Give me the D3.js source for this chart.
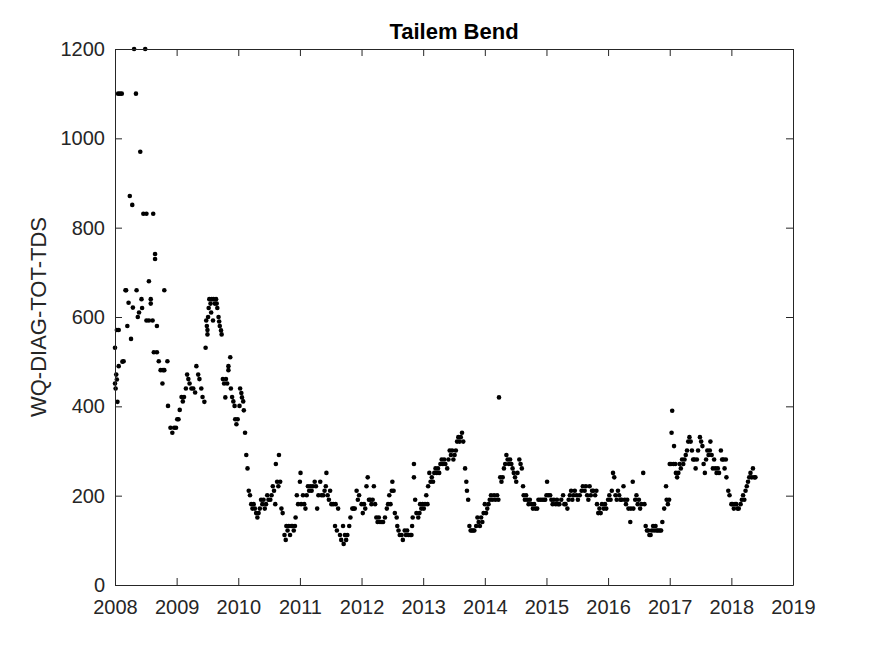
<!DOCTYPE html>
<html>
<head>
<meta charset="utf-8">
<script src="https://cdn.jsdelivr.net/npm/d3@7"></script>
<style>
  html, body { margin: 0; padding: 0; background: #fff; }
  svg { display: block; }
  text { font-family: "Liberation Sans", Arial, Helvetica, sans-serif; fill: #262626; }
</style>
</head>
<body>
<svg id="chart" width="875" height="656"></svg>
<script>
// ---- Data ----
const chartTitle = "Tailem Bend";
const yAxisLabel = "WQ-DIAG-TOT-TDS";
const xTickValues = [2008, 2009, 2010, 2011, 2012, 2013, 2014, 2015, 2016, 2017, 2018, 2019];
const xTickLabels = ["2008","2009","2010","2011","2012","2013","2014","2015","2016","2017","2018","2019"];
const yTickValues = [0, 200, 400, 600, 800, 1000, 1200];
const yTickLabels = ["0","200","400","600","800","1000","1200"];

// [decimal year, TDS]
const obs2008 = [[2008.00,531],[2008.00,451],[2008.01,440],[2008.02,471],[2008.03,460],[2008.04,410],[2008.03,571],[2008.05,1100],[2008.06,571],[2008.06,490],[2008.08,1100],[2008.11,1100],[2008.12,500],[2008.14,501],[2008.17,660],[2008.18,660],[2008.20,580],[2008.22,632],[2008.24,871],[2008.26,551],[2008.28,851],[2008.29,621],[2008.31,1200],[2008.34,1100],[2008.35,660],[2008.37,600],[2008.39,610],[2008.41,970],[2008.43,640],[2008.44,620],[2008.46,831],[2008.49,1200],[2008.51,831],[2008.51,592],[2008.55,680],[2008.55,592],[2008.58,640],[2008.58,630],[2008.61,592],[2008.62,831],[2008.63,521],[2008.65,741],[2008.65,730],[2008.68,580],[2008.68,521],[2008.71,501],[2008.74,481],[2008.77,451],[2008.78,481],[2008.80,660],[2008.80,481],[2008.85,501],[2008.86,401],[2008.90,352],[2008.93,341],[2008.96,352],[2008.99,352]];
const obs2009 = [[2009.01,371],[2009.03,371],[2009.05,392],[2009.08,421],[2009.10,411],[2009.12,421],[2009.15,440],[2009.17,471],[2009.19,461],[2009.21,451],[2009.24,440],[2009.27,440],[2009.30,431],[2009.32,490],[2009.35,471],[2009.37,461],[2009.40,440],[2009.42,421],[2009.45,410],[2009.47,531],[2009.48,592],[2009.49,580],[2009.50,571],[2009.50,561],[2009.51,600],[2009.52,620],[2009.53,640],[2009.55,630],[2009.56,610],[2009.57,640],[2009.59,592],[2009.60,640],[2009.62,630],[2009.64,640],[2009.65,630],[2009.66,620],[2009.68,600],[2009.69,590],[2009.70,580],[2009.72,570],[2009.73,561],[2009.75,461],[2009.77,451],[2009.79,420],[2009.80,461],[2009.82,451],[2009.84,490],[2009.84,481],[2009.87,510],[2009.88,440],[2009.90,421],[2009.92,411],[2009.94,401],[2009.95,371],[2009.97,360],[2009.99,371]];
const obs2010 = [[2010.02,401],[2010.03,440],[2010.05,430],[2010.06,420],[2010.08,411],[2010.09,391],[2010.11,341],[2010.13,291],[2010.15,261],[2010.17,211],[2010.19,201],[2010.21,181],[2010.23,171],[2010.25,181],[2010.27,171],[2010.29,161],[2010.31,151],[2010.33,161],[2010.35,171],[2010.37,191],[2010.39,181],[2010.41,191],[2010.43,171],[2010.45,181],[2010.47,201],[2010.49,191],[2010.52,191],[2010.54,201],[2010.56,221],[2010.58,211],[2010.60,181],[2010.61,271],[2010.63,231],[2010.65,221],[2010.66,291],[2010.68,231],[2010.70,171],[2010.72,161],[2010.75,112],[2010.77,101],[2010.78,132],[2010.80,122],[2010.82,132],[2010.84,112],[2010.86,132],[2010.88,132],[2010.90,122],[2010.92,132],[2010.93,151],[2010.95,201],[2010.97,181]];
const obs2011 = [[2011.00,231],[2011.01,251],[2011.02,181],[2011.05,201],[2011.07,181],[2011.09,171],[2011.11,201],[2011.13,221],[2011.15,211],[2011.17,221],[2011.19,211],[2011.21,221],[2011.24,231],[2011.26,221],[2011.28,171],[2011.30,201],[2011.33,231],[2011.35,201],[2011.38,201],[2011.40,211],[2011.42,221],[2011.43,251],[2011.45,201],[2011.47,191],[2011.49,211],[2011.51,181],[2011.54,181],[2011.57,132],[2011.58,181],[2011.60,122],[2011.62,171],[2011.65,112],[2011.67,101],[2011.70,132],[2011.71,92],[2011.73,112],[2011.75,101],[2011.77,112],[2011.80,132],[2011.82,151],[2011.85,171],[2011.87,171],[2011.89,171],[2011.92,211],[2011.94,191],[2011.96,201]];
const obs2012 = [[2012.00,181],[2012.02,161],[2012.04,181],[2012.06,171],[2012.08,221],[2012.10,241],[2012.12,191],[2012.14,191],[2012.16,181],[2012.18,191],[2012.20,221],[2012.22,181],[2012.24,151],[2012.26,141],[2012.28,151],[2012.30,141],[2012.33,141],[2012.35,141],[2012.38,151],[2012.41,171],[2012.43,181],[2012.45,201],[2012.47,181],[2012.49,211],[2012.50,231],[2012.52,211],[2012.54,161],[2012.57,151],[2012.58,132],[2012.60,122],[2012.62,112],[2012.65,112],[2012.67,101],[2012.70,122],[2012.72,112],[2012.74,122],[2012.76,112],[2012.79,112],[2012.81,112],[2012.82,132],[2012.83,151],[2012.85,271],[2012.85,241],[2012.87,191],[2012.89,161],[2012.92,151],[2012.94,161],[2012.95,181],[2012.97,171],[2012.99,181]];
const obs2013 = [[2013.01,171],[2013.03,181],[2013.05,201],[2013.07,181],[2013.08,221],[2013.10,251],[2013.12,231],[2013.14,241],[2013.16,231],[2013.18,251],[2013.20,261],[2013.22,251],[2013.24,261],[2013.26,251],[2013.28,271],[2013.30,281],[2013.32,271],[2013.34,281],[2013.36,271],[2013.39,261],[2013.41,281],[2013.43,301],[2013.45,291],[2013.47,301],[2013.49,281],[2013.51,291],[2013.53,301],[2013.55,321],[2013.57,331],[2013.59,321],[2013.61,331],[2013.63,341],[2013.65,321],[2013.68,261],[2013.70,231],[2013.71,211],[2013.73,191],[2013.75,132],[2013.77,122],[2013.79,122],[2013.81,122],[2013.83,122],[2013.86,132],[2013.88,151],[2013.90,141],[2013.92,132],[2013.94,151],[2013.96,141],[2013.98,161]];
const obs2014 = [[2014.00,181],[2014.02,161],[2014.04,171],[2014.06,181],[2014.08,191],[2014.10,201],[2014.12,191],[2014.15,201],[2014.17,191],[2014.20,201],[2014.22,191],[2014.23,420],[2014.25,241],[2014.27,231],[2014.29,241],[2014.31,261],[2014.33,271],[2014.35,291],[2014.37,281],[2014.39,271],[2014.41,281],[2014.43,271],[2014.45,261],[2014.47,251],[2014.49,241],[2014.51,231],[2014.53,251],[2014.56,281],[2014.58,271],[2014.60,261],[2014.62,221],[2014.63,201],[2014.65,191],[2014.67,201],[2014.69,191],[2014.71,181],[2014.73,191],[2014.76,181],[2014.78,171],[2014.80,181],[2014.82,171],[2014.85,171],[2014.87,191],[2014.90,191],[2014.93,191],[2014.96,191],[2014.98,191]];
const obs2015 = [[2015.00,201],[2015.01,231],[2015.03,201],[2015.06,201],[2015.08,191],[2015.10,181],[2015.12,191],[2015.15,181],[2015.17,191],[2015.19,181],[2015.21,181],[2015.24,191],[2015.27,201],[2015.29,181],[2015.31,181],[2015.34,171],[2015.36,191],[2015.38,201],[2015.40,211],[2015.42,191],[2015.44,201],[2015.46,211],[2015.49,201],[2015.51,191],[2015.54,201],[2015.57,211],[2015.59,221],[2015.62,211],[2015.64,221],[2015.66,201],[2015.68,191],[2015.70,221],[2015.72,201],[2015.74,211],[2015.76,211],[2015.79,201],[2015.81,211],[2015.82,181],[2015.84,161],[2015.86,171],[2015.88,161],[2015.90,181],[2015.93,171],[2015.95,181],[2015.97,171]];
const obs2016 = [[2016.00,191],[2016.02,201],[2016.04,191],[2016.06,211],[2016.08,251],[2016.10,241],[2016.12,201],[2016.14,191],[2016.16,211],[2016.18,201],[2016.20,191],[2016.22,191],[2016.25,221],[2016.27,191],[2016.29,181],[2016.31,191],[2016.33,171],[2016.36,141],[2016.37,171],[2016.40,231],[2016.41,171],[2016.44,191],[2016.46,201],[2016.48,181],[2016.50,191],[2016.52,171],[2016.54,181],[2016.57,251],[2016.59,181],[2016.61,132],[2016.63,122],[2016.65,122],[2016.67,112],[2016.69,112],[2016.71,122],[2016.73,132],[2016.75,122],[2016.77,132],[2016.79,122],[2016.81,122],[2016.84,122],[2016.86,122],[2016.88,141],[2016.91,171],[2016.94,221],[2016.95,191],[2016.97,181],[2016.99,191]];
const obs2017 = [[2017.00,271],[2017.02,271],[2017.03,341],[2017.04,390],[2017.06,271],[2017.07,311],[2017.09,271],[2017.10,251],[2017.12,241],[2017.14,251],[2017.16,271],[2017.18,261],[2017.20,281],[2017.22,271],[2017.24,281],[2017.26,291],[2017.28,301],[2017.30,321],[2017.32,331],[2017.34,321],[2017.36,301],[2017.38,281],[2017.40,281],[2017.42,261],[2017.44,281],[2017.46,301],[2017.49,331],[2017.51,321],[2017.53,311],[2017.55,271],[2017.57,251],[2017.59,281],[2017.61,301],[2017.63,291],[2017.65,301],[2017.66,321],[2017.68,291],[2017.70,261],[2017.72,281],[2017.74,261],[2017.76,251],[2017.78,261],[2017.80,251],[2017.83,301],[2017.85,281],[2017.87,281],[2017.89,261],[2017.91,281],[2017.92,241],[2017.95,211],[2017.97,201]];
const obs2018 = [[2018.00,181],[2018.02,181],[2018.04,171],[2018.06,181],[2018.08,181],[2018.10,171],[2018.12,171],[2018.15,181],[2018.17,191],[2018.19,201],[2018.21,191],[2018.23,211],[2018.25,221],[2018.27,231],[2018.29,241],[2018.31,251],[2018.33,241],[2018.35,261],[2018.37,241],[2018.39,241]];

const observations = [].concat(obs2008, obs2009, obs2010, obs2011, obs2012, obs2013,
  obs2014, obs2015, obs2016, obs2017, obs2018);

(function () {
  // ---- Layout ----
  const svg = d3.select("#chart");
  const mLeft = 115, mRight = 793, mTop = 49, mBottom = 585;
  const axisColor = "#262626";
  const tickLen = 7;

  const x = d3.scaleLinear().domain([2008, 2019]).range([mLeft, mRight]);
  const y = d3.scaleLinear().domain([0, 1200]).range([mBottom, mTop]);

  // Points
  svg.append("g")
    .selectAll("circle")
    .data(observations)
    .join("circle")
    .attr("cx", d => x(d[0]))
    .attr("cy", d => y(d[1]))
    .attr("r", 2.3)
    .attr("fill", "#000");

  function styleAxis(g) {
    g.selectAll("path").attr("stroke", axisColor).attr("stroke-width", 1);
    g.selectAll("line").attr("stroke", axisColor).attr("stroke-width", 1);
    g.selectAll("text").attr("fill", axisColor)
      .style("font-family", '"Liberation Sans", Arial, Helvetica, sans-serif')
      .style("font-size", "20px");
  }

  svg.append("g")
    .attr("transform", `translate(0,${mBottom})`)
    .call(d3.axisBottom(x).tickValues(xTickValues)
      .tickFormat((d, i) => xTickLabels[i])
      .tickSizeInner(-tickLen).tickSizeOuter(0).tickPadding(15))
    .call(styleAxis);

  svg.append("g")
    .attr("transform", `translate(0,${mTop})`)
    .call(d3.axisTop(x).tickValues(xTickValues).tickFormat("")
      .tickSizeInner(-tickLen).tickSizeOuter(0))
    .call(styleAxis);

  svg.append("g")
    .attr("transform", `translate(${mLeft},0)`)
    .call(d3.axisLeft(y).tickValues(yTickValues)
      .tickFormat((d, i) => yTickLabels[i])
      .tickSizeInner(-tickLen).tickSizeOuter(0).tickPadding(10))
    .call(styleAxis);

  svg.append("g")
    .attr("transform", `translate(${mRight},0)`)
    .call(d3.axisRight(y).tickValues(yTickValues).tickFormat("")
      .tickSizeInner(-tickLen).tickSizeOuter(0))
    .call(styleAxis);

  svg.append("text")
    .attr("x", (mLeft + mRight) / 2)
    .attr("y", 39)
    .attr("text-anchor", "middle")
    .style("font-size", "22px")
    .style("font-weight", "bold")
    .style("fill", "#000")
    .text(chartTitle);

  svg.append("text")
    .attr("transform", `translate(46,${(mTop + mBottom) / 2}) rotate(-90)`)
    .attr("text-anchor", "middle")
    .style("font-size", "22px")
    .text(yAxisLabel);
})();
</script>
</body>
</html>
